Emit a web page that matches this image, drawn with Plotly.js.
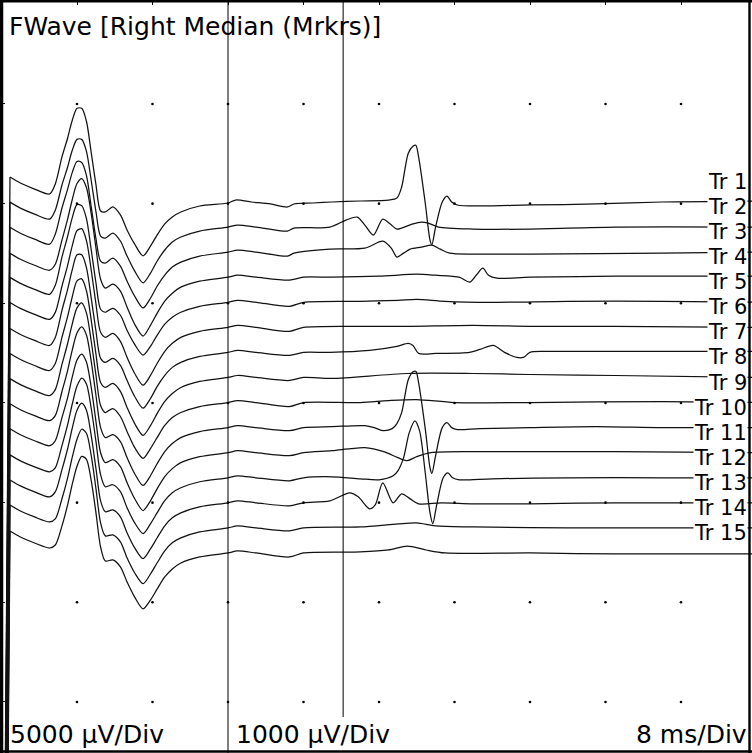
<!DOCTYPE html>
<html><head><meta charset="utf-8">
<script src="https://cdn.plot.ly/plotly-3.0.1.min.js"></script>
<style>html,body{margin:0;padding:0;background:#fff;overflow:hidden}#chart{width:752px;height:753px}</style>
</head><body><div id="chart"></div>
<script>
// ---- data ----
const chartTitle = 'FWave [Right Median (Mrkrs)]';
const traceLabels = ['Tr 1','Tr 2','Tr 3','Tr 4','Tr 5','Tr 6','Tr 7','Tr 8','Tr 9','Tr 10','Tr 11','Tr 12','Tr 13','Tr 14','Tr 15'];
const sensLeft = 5000;   // µV/Div before first marker
const sensRight = 1000;  // µV/Div after first marker
const msPerDiv = 8;
const markerTimes = [24.0, 36.2];
const bottomTexts = ['5000 µV/Div', '1000 µV/Div', '8 ms/Div'];

// M-wave segment, shared time base (ms), amplitudes in µV
const timesM = [0.2, 0.9, 2.0, 3.5, 5.1, 5.7, 6.4, 7.0, 7.5, 8.0, 8.5, 9.0, 9.5, 10.0, 10.5, 11.0, 11.8, 12.6, 13.3, 14.1, 15.0, 15.8, 16.5, 17.3, 18.1, 19.0, 21.0];
const mWave1  = [-40000,1250,950,650,400,900,2250,3200,4100,4700,4700,4050,2500,900,-450,-500,-250,-650,-1400,-2100,-2700,-2200,-1650,-1100,-750,-500,-200];
const mWave2  = [-40000,1250,950,650,400,850,2100,3000,3850,4400,4400,3800,2350,800,-450,-550,-300,-700,-1450,-2200,-2800,-2300,-1700,-1150,-750,-500,-200];
const mWave3  = [-40000,1250,950,650,400,900,2200,3150,4000,4550,4500,3850,2300,700,-450,-550,-300,-700,-1450,-2200,-2800,-2300,-1700,-1150,-750,-500,-200];
const mWave4  = [-40000,1200,900,600,350,650,1850,2900,3900,4700,4950,4500,3200,1500,-100,-550,-350,-700,-1500,-2350,-2950,-2400,-1800,-1200,-800,-500,-200];
const mWave5  = [-40000,1250,950,650,400,850,2250,3300,4250,4900,4850,4200,2650,1000,-350,-500,-300,-650,-1400,-2100,-2650,-2200,-1650,-1100,-750,-500,-200];
const mWave6  = [-40000,1250,950,650,400,750,2050,3100,4100,4850,4950,4350,2900,1200,-250,-500,-300,-700,-1500,-2300,-2900,-2400,-1800,-1200,-800,-500,-200];
const mWave7  = [-40000,1200,900,600,350,750,2100,3150,4150,4900,4900,4250,2750,1100,-300,-500,-300,-650,-1400,-2200,-2800,-2300,-1700,-1150,-750,-500,-200];
const mWave8  = [-40000,1200,900,600,350,700,2000,3050,4050,4850,4950,4350,2900,1200,-250,-500,-300,-700,-1500,-2300,-2900,-2400,-1800,-1200,-800,-500,-200];
const mWave9  = [-40000,1200,900,600,350,650,1900,2950,3950,4750,5000,4500,3100,1400,-150,-500,-300,-700,-1450,-2250,-2800,-2300,-1750,-1150,-750,-500,-200];
const mWave10 = [-40000,1200,900,600,350,600,1800,2850,3900,4750,5050,4650,3350,1650,0,-500,-350,-700,-1500,-2300,-2900,-2400,-1800,-1200,-800,-500,-200];
const mWave11 = [-40000,1200,900,600,350,600,1750,2750,3800,4650,4950,4550,3300,1600,0,-500,-350,-700,-1500,-2300,-2900,-2400,-1800,-1200,-800,-500,-200];
const mWave12 = [-40000,1150,850,550,300,500,1600,2650,3700,4600,5000,4700,3500,1850,150,-450,-350,-700,-1500,-2250,-2800,-2300,-1750,-1150,-750,-500,-200];
const mWave13 = [-40000,1150,850,550,300,550,1650,2700,3750,4650,5000,4650,3400,1750,100,-450,-350,-700,-1500,-2250,-2800,-2300,-1750,-1150,-750,-500,-200];
const mWave14 = [-40000,1150,850,550,300,450,1450,2500,3550,4450,4950,4750,3650,2000,250,-400,-350,-700,-1500,-2250,-2800,-2300,-1750,-1150,-750,-500,-200];
const mWave15 = [-40000,1100,800,500,250,400,1350,2400,3450,4350,4850,4700,3650,2050,300,-400,-350,-700,-1450,-2200,-2800,-2350,-1800,-1200,-800,-500,-200];

// F-wave segment: [time ms, µV]
const fWave1  = [[24,-10],[24.8,20],[26.5,0],[28.5,-20],[30.3,-50],[31,-20],[33,-10],[35,0],[38,10],[41,20],[41.9,40],[42.4,150],[43.1,490],[43.6,560],[43.9,570],[44.2,450],[44.9,-10],[45.4,-380],[45.6,-430],[46,-250],[46.7,0],[47.2,60],[47.7,0],[48.3,-30],[50.7,-40],[56,-30],[63,-20],[70,0],[80,10]];
const fWave2  = [[24,0],[25,20],[27,0],[30.3,-40],[31,-10],[34.8,0],[36.5,70],[37.7,100],[38.5,20],[39.4,-80],[40.4,80],[41.2,30],[41.9,-20],[43.5,30],[44.5,50],[45.2,40],[46.3,0],[50,-20],[56,-20],[65,0],[80,0]];
const fWave3  = [[24,0],[25,20],[27,0],[30.3,-40],[31,-10],[34.8,30],[38.5,40],[40.4,110],[41.3,40],[41.9,-50],[42.6,-10],[43.3,30],[44.5,50],[45.6,70],[46.5,30],[47.5,-10],[50,-20],[56,-20],[70,-10],[80,0]];
const fWave4  = [[24,0],[25,20],[27,0],[30.5,-30],[32,0],[35,0],[40,10],[44,30],[46,20],[48.5,0],[49.6,-50],[50.3,20],[51,90],[51.6,20],[52.5,-10],[56,0],[65,10],[80,10]];
const fWave5  = [[24,0],[25,20],[27,0],[30.5,-40],[32,0],[38,10],[42,20],[44,30],[47,10],[52,0],[60,10],[70,10],[80,0]];
const fWave6  = [[24,0],[25,20],[27,0],[30.5,-40],[32,0],[38,10],[43,10],[50,20],[56,10],[65,10],[80,0]];
const fWave7  = [[24,0],[25,20],[27,0],[30.5,-30],[32,0],[34.8,0],[39,20],[41.9,60],[43.1,90],[43.6,70],[44.2,-10],[46,-10],[49.6,0],[50.7,30],[52.1,70],[53.3,0],[54.6,-50],[55.3,-50],[56,0],[57.5,10],[65,10],[80,10]];
const fWave8  = [[24,0],[25,20],[27,0],[30.5,-30],[32,0],[35,-10],[43,40],[50,40],[56,30],[65,20],[80,0]];
const fWave9  = [[24,0],[25,20],[27,0],[30.5,-40],[32,0],[38,0],[41,20],[44,30],[48,0],[56,0],[70,10],[80,0]];
const fWave10 = [[24,0],[25,20],[27,0],[30.5,-30],[32,0],[35,10],[38.5,20],[39.5,0],[40.4,-30],[41.4,-10],[41.9,40],[42.4,150],[43.1,480],[43.6,560],[43.9,565],[44.2,450],[44.9,-10],[45.4,-400],[45.6,-460],[46,-280],[46.7,0],[47.2,50],[47.7,0],[48.3,-20],[50.7,-10],[56,0],[63,10],[70,0],[80,0]];
const fWave11 = [[24,0],[25,20],[27,0],[30.5,-30],[32,0],[35,20],[37,40],[38.5,50],[40.5,10],[42,-50],[43,-80],[44,-40],[45.5,0],[50,10],[56,10],[65,10],[80,0]];
const fWave12 = [[24,0],[25,20],[27,0],[30.5,-30],[32,0],[35,10],[38,-10],[40,-20],[41.5,20],[42,70],[42.6,200],[43.2,450],[43.8,570],[44.3,470],[44.9,50],[45.4,-350],[45.7,-460],[46.1,-280],[46.8,0],[47.3,50],[47.8,0],[48.5,-20],[52,-10],[60,0],[70,0],[80,0]];
const fWave13 = [[24,0],[25,20],[27,0],[30.5,-30],[32,0],[34.8,20],[36.9,100],[37.8,60],[39,-60],[39.6,-20],[40.4,200],[41.5,0],[42.4,90],[43.3,40],[44.2,-10],[46.6,0],[50,-10],[56,-10],[65,0],[80,0]];
const fWave14 = [[24,0],[25,20],[27,0],[30.5,-30],[32,0],[38,10],[42,40],[44,50],[46,20],[50,10],[60,0],[80,0]];
const fWave15 = [[24,0],[25,20],[27,0],[30.5,-40],[32,0],[38,10],[41,30],[43,70],[45,30],[47,0],[56,0],[65,-10],[80,-10]];

// ---- layout constants ----
const W = 752, H = 753;
const pxPerDiv = 99.67;
const topPx = 4.3;
const xRange = [-1.5 / 9.4375, (W - 1.5) / 9.4375];
const yRange = [-(H - topPx) / pxPerDiv, topPx / pxPerDiv];
const firstBaseDiv = (202 - topPx) / pxPerDiv;
const stepDiv = 25.07 / pxPerDiv;
const FONT = 'DejaVu Sans';

const mWaves = [mWave1,mWave2,mWave3,mWave4,mWave5,mWave6,mWave7,mWave8,mWave9,mWave10,mWave11,mWave12,mWave13,mWave14,mWave15];
const fWaves = [fWave1,fWave2,fWave3,fWave4,fWave5,fWave6,fWave7,fWave8,fWave9,fWave10,fWave11,fWave12,fWave13,fWave14,fWave15];

const data = [];
const lineStyle = {color:'#111', width:1.25};
mWaves.forEach((mw, i) => {
  const off = firstBaseDiv + i * stepDiv;
  // stimulus artifact segment (straight)
  data.push({type:'scatter', mode:'lines', hoverinfo:'skip',
    x: timesM.slice(0, 2), y: mw.slice(0, 2).map(v => -off + v / sensLeft),
    line: Object.assign({shape:'linear'}, lineStyle)});
  const fw = fWaves[i];
  const xs = timesM.slice(1).concat(fw.map(p => p[0]));
  const ys = mw.slice(1).map(v => -off + v / sensLeft).concat(fw.map(p => -off + p[1] / sensRight));
  data.push({type:'scatter', mode:'lines', hoverinfo:'skip', x: xs, y: ys,
    line: Object.assign({shape:'spline', smoothing:0.8}, lineStyle)});
});

// grid dots at division intersections
const gx = [], gy = [];
for (let k = 1; k <= 9; k++) for (let j = 1; j <= 7; j++) { gx.push(k * msPerDiv); gy.push(-j); }
data.push({type:'scatter', mode:'markers', x:gx, y:gy, hoverinfo:'skip', cliponaxis:false,
  marker:{size:2.6, color:'#000'}});

const annotations = traceLabels.map((t, i) => ({
  text: t, xref:'paper', yref:'paper', x: 748.4 / W, xanchor:'right',
  y: (H - (182 + 25.07 * i)) / H, yanchor:'middle', showarrow:false,
  bgcolor:'#fff', borderpad:0, font:{family:FONT, size:21, color:'#000'}
}));
annotations.push(
  {text: bottomTexts[0], xref:'paper', yref:'paper', x: 9 / W, xanchor:'left', y: (H - 734) / H, yanchor:'middle', showarrow:false, borderpad:0, font:{family:FONT, size:25, color:'#000'}},
  {text: bottomTexts[1], xref:'paper', yref:'paper', x: 235 / W, xanchor:'left', y: (H - 734) / H, yanchor:'middle', showarrow:false, borderpad:0, font:{family:FONT, size:25, color:'#000'}},
  {text: bottomTexts[2], xref:'paper', yref:'paper', x: 748 / W, xanchor:'right', y: (H - 734) / H, yanchor:'middle', showarrow:false, borderpad:0, font:{family:FONT, size:25, color:'#000'}}
);

const shapes = [
  {type:'line', xref:'x', yref:'paper', x0:markerTimes[0], x1:markerTimes[0], y0:0, y1:1, line:{color:'#000', width:1}},
  {type:'line', xref:'x', yref:'paper', x0:markerTimes[1], x1:markerTimes[1], y0:(H - 717) / H, y1:1, line:{color:'#000', width:1}},
  {type:'line', xref:'paper', yref:'paper', x0:1.6 / W, x1:1.6 / W, y0:0, y1:1, line:{color:'#000', width:3.3}, layer:'above'},
  {type:'line', xref:'paper', yref:'paper', x0:0, x1:1, y0:1 - 1.3 / H, y1:1 - 1.3 / H, line:{color:'#000', width:2.6}, layer:'above'},
  {type:'line', xref:'paper', yref:'paper', x0:749.5 / W, x1:749.5 / W, y0:0, y1:1, line:{color:'#000', width:2.4}, layer:'above'},
  {type:'line', xref:'paper', yref:'paper', x0:0, x1:1, y0:1.5 / H, y1:1.5 / H, line:{color:'#000', width:2.6}, layer:'above'}
];

const tickX = []; for (let k = 1; k <= 9; k++) tickX.push(k * msPerDiv);
const tickY = []; for (let j = 1; j <= 7; j++) tickY.push(-j);

const layout = {
  width: W, height: H, margin:{l:0, r:0, t:0, b:0, pad:0},
  paper_bgcolor:'#fff', plot_bgcolor:'#fff', showlegend:false,
  title:{text: chartTitle, xref:'container', yref:'container', x: 9 / W, xanchor:'left',
    y: 1 - 26 / H, yanchor:'middle', font:{family:FONT, size:25, color:'#000'}},
  xaxis:{range:xRange, showgrid:false, zeroline:false, showticklabels:false, showline:false,
    ticks:'inside', ticklen:5, tickwidth:1, tickcolor:'#000', tickvals:tickX, side:'top', fixedrange:true},
  yaxis:{range:yRange, showgrid:false, zeroline:false, showticklabels:false, showline:false,
    ticks:'inside', ticklen:5, tickwidth:1, tickcolor:'#000', tickvals:tickY, fixedrange:true},
  annotations, shapes
};

Plotly.newPlot('chart', data, layout, {staticPlot:true, displayModeBar:false});
</script></body></html>
